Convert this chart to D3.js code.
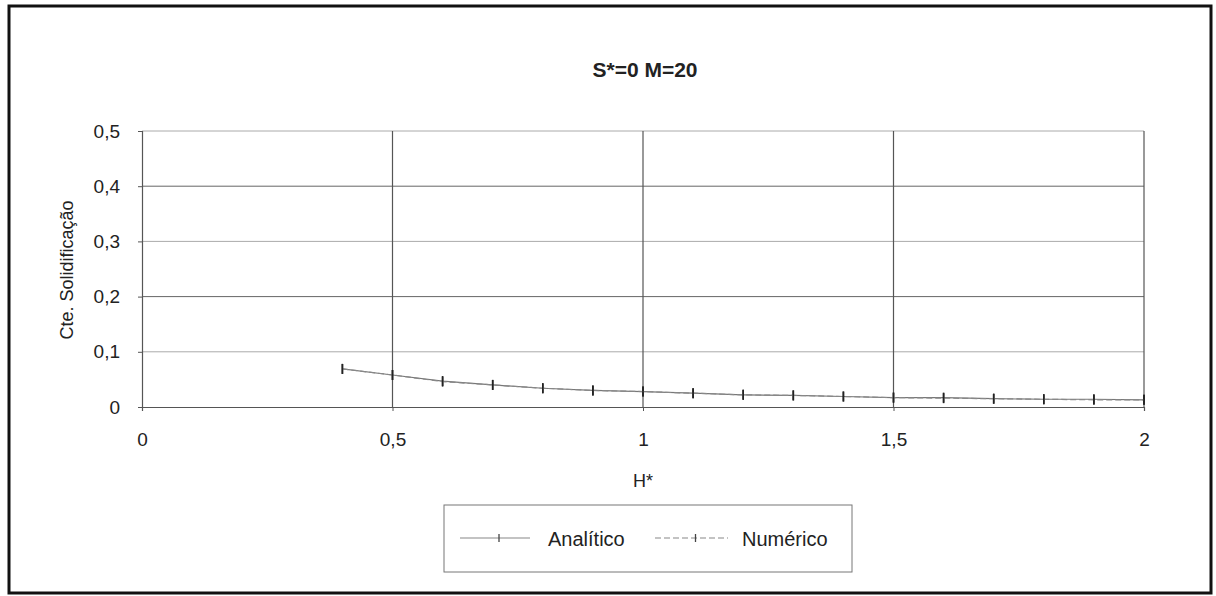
<!DOCTYPE html>
<html>
<head>
<meta charset="utf-8">
<script src="https://cdn.jsdelivr.net/npm/d3@7"></script>
<style>
  html, body { margin: 0; padding: 0; background: #fff; }
  svg { display: block; }
  text { font-family: "Liberation Sans", Arial, sans-serif; fill: #222; }
</style>
</head>
<body>
<svg id="chart" width="1216" height="596"></svg>
<script>
// H* values and solidification constants for S*=0, M=20
const hStar = [0.4, 0.5, 0.6, 0.7, 0.8, 0.9, 1.0, 1.1, 1.2, 1.3, 1.4, 1.5, 1.6, 1.7, 1.8, 1.9, 2.0];
const analitico = [0.069, 0.058, 0.047, 0.040, 0.034, 0.030, 0.028, 0.025, 0.022, 0.021, 0.019, 0.017, 0.017, 0.015, 0.014, 0.014, 0.013];
const numerico  = [0.069, 0.058, 0.046, 0.040, 0.034, 0.030, 0.028, 0.025, 0.022, 0.021, 0.019, 0.017, 0.016, 0.015, 0.014, 0.013, 0.013];
const xTicks = [0, 0.5, 1, 1.5, 2];
const yTicks = [0, 0.1, 0.2, 0.3, 0.4, 0.5];
const fmt = v => String(v).replace(".", ",");

const svg = d3.select("#chart");

// outer frame
svg.append("rect")
  .attr("x", 9).attr("y", 6).attr("width", 1202).attr("height", 587)
  .attr("fill", "#fff").attr("stroke", "#111").attr("stroke-width", 3);

const plotLeft = 142, plotRight = 1144, plotTop = 131, plotBottom = 407;
const x = d3.scaleLinear().domain([0, 2]).range([plotLeft, plotRight]);
const y = d3.scaleLinear().domain([0, 0.5]).range([plotBottom, plotTop]);

// title
svg.append("text").attr("x", 645).attr("y", 77).attr("text-anchor", "middle")
  .attr("font-size", 21).attr("font-weight", "bold").text("S*=0 M=20");

// horizontal grid
svg.append("g").selectAll("line").data(yTicks.filter(d => d > 0)).join("line")
  .attr("x1", plotLeft).attr("x2", plotRight)
  .attr("y1", d => y(d)).attr("y2", d => y(d))
  .attr("stroke", (d, i) => (i % 2 === 1 ? "#666" : "#aaa")).attr("stroke-width", 1);

// vertical grid
svg.append("g").selectAll("line").data(xTicks.filter(d => d > 0)).join("line")
  .attr("x1", d => x(d)).attr("x2", d => x(d))
  .attr("y1", plotTop).attr("y2", plotBottom)
  .attr("stroke", "#555").attr("stroke-width", 1.2);

// axes
const xAxis = svg.append("g").attr("transform", `translate(0,${plotBottom})`)
  .call(d3.axisBottom(x).tickValues(xTicks).tickFormat(fmt).tickSize(4).tickPadding(22));
const yAxis = svg.append("g").attr("transform", `translate(${plotLeft},0)`)
  .call(d3.axisLeft(y).tickValues(yTicks).tickFormat(fmt).tickSize(4).tickPadding(18));
[xAxis, yAxis].forEach(a => {
  a.select(".domain").attr("stroke", "#555").attr("stroke-width", 1.2);
  a.selectAll(".tick line").attr("stroke", "#555");
  a.selectAll(".tick text").attr("font-size", 19).attr("fill", "#222")
    .attr("font-family", "'Liberation Sans', Arial, sans-serif");
});

// axis titles
svg.append("text").attr("x", 643).attr("y", 487).attr("text-anchor", "middle")
  .attr("font-size", 18).text("H*");
svg.append("text").attr("transform", "translate(73,270) rotate(-90)")
  .attr("text-anchor", "middle").attr("font-size", 18).text("Cte. Solidificação");

// series
const series = [
  { name: "Analítico", values: analitico, dash: null, color: "#777" },
  { name: "Numérico", values: numerico, dash: "6,3", color: "#888" }
];
const line = d3.line().x(d => x(d[0])).y(d => y(d[1]));
series.forEach(s => {
  const pts = hStar.map((h, i) => [h, s.values[i]]);
  svg.append("path").datum(pts).attr("d", line)
    .attr("fill", "none").attr("stroke", s.color).attr("stroke-width", 1.2)
    .attr("stroke-dasharray", s.dash);
  svg.append("g").selectAll("line").data(pts).join("line")
    .attr("x1", d => x(d[0])).attr("x2", d => x(d[0]))
    .attr("y1", d => y(d[1]) - 5).attr("y2", d => y(d[1]) + 5)
    .attr("stroke", "#222").attr("stroke-width", 1.6);
});

// legend
const lg = svg.append("g");
lg.append("rect").attr("x", 444).attr("y", 505).attr("width", 408).attr("height", 67)
  .attr("fill", "#fff").attr("stroke", "#777").attr("stroke-width", 1);
const entries = [
  { s: series[0], x0: 460, x1: 530, tx: 548 },
  { s: series[1], x0: 655, x1: 728, tx: 742 }
];
entries.forEach(e => {
  lg.append("line").attr("x1", e.x0).attr("x2", e.x1).attr("y1", 538).attr("y2", 538)
    .attr("stroke", "#888").attr("stroke-width", 1.2).attr("stroke-dasharray", e.s.dash);
  const mx = (e.x0 + e.x1) / 2 + 4;
  lg.append("line").attr("x1", mx).attr("x2", mx).attr("y1", 534).attr("y2", 542)
    .attr("stroke", "#444").attr("stroke-width", 1.3);
  lg.append("text").attr("x", e.tx).attr("y", 546).attr("font-size", 20).text(e.s.name);
});
</script>
</body>
</html>
